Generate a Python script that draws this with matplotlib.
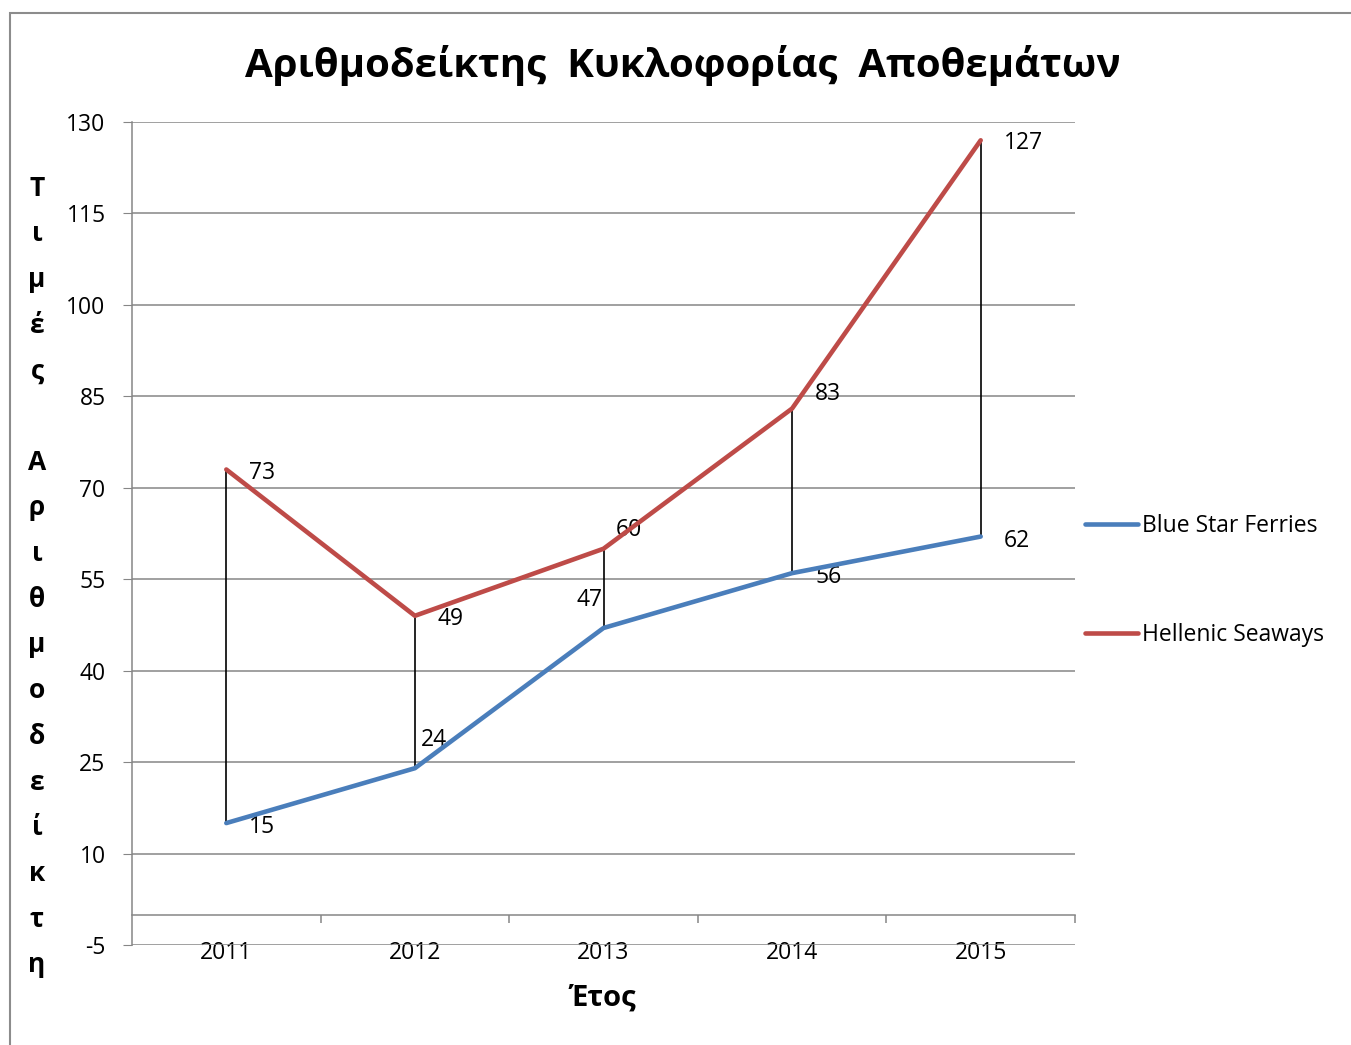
import matplotlib
matplotlib.use("Agg")
import matplotlib.pyplot as plt
from matplotlib.patches import Rectangle
import numpy as np

plt.rcParams["font.family"] = ["Open Sans", "DejaVu Sans"]
plt.rcParams["axes.unicode_minus"] = False

years = ["2011", "2012", "2013", "2014", "2015"]
blue_star = [15, 24, 47, 56, 62]
hellenic = [73, 49, 60, 83, 127]
y_ticks = [-5, 10, 25, 40, 55, 70, 85, 100, 115, 130]

# label offsets (points) and alignment for each data label
blue_offsets = [(16.5, -3, "left"), (4.5, 20, "left"), (-1, 20, "right"),
                (16.5, -3, "left"), (16.5, -3, "left")]
red_offsets = [(16.5, -2.5, "left"), (16.5, -2.5, "left"), (9, 13.5, "left"),
               (16.5, 10.5, "left"), (16.5, -2, "left")]

BLUE = "#4A7EBB"
RED = "#BE4B48"
GRID = "#868686"
FS = 16.5

fig = plt.figure(figsize=(13.51, 10.45), dpi=100)
fig.patches.append(Rectangle((10 / 1351, -0.1), 1.2, 1 - 13 / 1045 + 0.1,
                             transform=fig.transFigure, fill=False,
                             edgecolor="#8c8c8c", linewidth=1.5))

ax = fig.add_axes([132 / 1351, 1 - 945 / 1045, 943 / 1351, 823 / 1045])
x = np.arange(len(years))

ax.set_xlim(-0.5, len(years) - 0.5)
ax.set_ylim(-5, 130)
ax.set_yticks(y_ticks)
ax.yaxis.grid(True, color=GRID, linewidth=1.1)
ax.set_axisbelow(True)
for s in ["top", "right", "bottom"]:
    ax.spines[s].set_visible(False)
ax.spines["left"].set_color(GRID)
ax.spines["left"].set_linewidth(1.1)
ax.tick_params(axis="y", direction="out", length=6.5, color=GRID, labelsize=FS, pad=12.5)
ax.set_xticks(x)
ax.set_xticklabels(years)
ax.tick_params(axis="x", length=0, labelsize=FS, pad=-3)

# category axis crossing at zero with tick marks between categories
sec = ax.secondary_xaxis(5 / 135)
sec.set_xticks(np.arange(len(years)) + 0.5)
sec.set_xticklabels([])
sec.tick_params(direction="out", length=6, color=GRID, width=1.1)
sec.spines["bottom"].set_color(GRID)
sec.spines["bottom"].set_linewidth(1.1)

# high-low lines
ax.vlines(x, blue_star, hellenic, color="black", linewidth=1.2, zorder=3)

ax.plot(x, blue_star, color=BLUE, linewidth=3.3, label="Blue Star Ferries",
        solid_capstyle="round", zorder=4)
ax.plot(x, hellenic, color=RED, linewidth=3.3, label="Hellenic Seaways",
        solid_capstyle="round", zorder=4)

for xi, v, (dx, dy, ha) in zip(x, blue_star, blue_offsets):
    ax.annotate(str(v), (xi, v), xytext=(dx, dy), textcoords="offset points",
                fontsize=FS, ha=ha, va="center")
for xi, v, (dx, dy, ha) in zip(x, hellenic, red_offsets):
    ax.annotate(str(v), (xi, v), xytext=(dx, dy), textcoords="offset points",
                fontsize=FS, ha=ha, va="center")

ax.legend(loc="center left", bbox_to_anchor=((1085 - 132) / 943, (945 - 580.5) / 823),
          frameon=False, fontsize=FS, handlelength=2.3, handletextpad=0.2,
          labelspacing=3.75, borderaxespad=0, borderpad=0)

fig.text(683 / 1351, 1 - 65 / 1045, "Αριθμοδείκτης  Κυκλοφορίας  Αποθεμάτων",
         ha="center", va="center", fontsize=29, fontweight="bold")
fig.text(603 / 1351, 1 - 998 / 1045, "Έτος", ha="center", va="center",
         fontsize=21, fontweight="bold")

for i, ch in enumerate("Τ ι μ έ ς _ Α ρ ι θ μ ο δ ε ί κ τ η".split(" ")):
    if ch == "_":
        continue
    fig.text(37 / 1351, 1 - (188 + i * 45.7) / 1045, ch, ha="center",
             va="center", fontsize=19, fontweight="bold")

fig.savefig("out.png", dpi=100)
